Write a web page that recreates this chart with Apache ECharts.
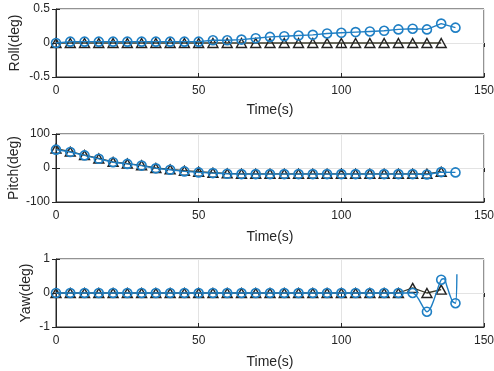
<!DOCTYPE html>
<html><head><meta charset="utf-8">
<script src="https://cdn.jsdelivr.net/npm/echarts@6/dist/echarts.min.js"></script>
<style>html,body{margin:0;padding:0;background:#fff}#c{width:494px;height:371px}</style>
</head><body><div id="c"></div>
<script>
// Time stamps (s)
var tCircle = [0,5,10,15,20,25,30,35,40,45,50,55,60,65,70,75,80,85,90,95,100,105,110,115,120,125,130,135,140];
var tTri = [0,5,10,15,20,25,30,35,40,45,50,55,60,65,70,75,80,85,90,95,100,105,110,115,120,125,130,135];

// Roll (deg)
var rollBlue = [0,0.02,0.02,0.02,0.02,0.02,0.02,0.02,0.02,0.02,0.02,0.04,0.04,0.05,0.07,0.09,0.10,0.11,0.12,0.14,0.15,0.16,0.17,0.18,0.20,0.21,0.20,0.285,0.226];
var rollBlack = [0,0,0,0,0,0,0,0,0,0,0,0,0,0,0,0,0,0,0,0,0,0,0,0,0,0,0,0];

// Pitch (deg)
var pitchBlue = [54,47,37,27,17,12,7,-1,-5,-10,-13,-15,-17,-18,-18,-18,-18,-18,-18,-18,-18,-18,-18,-18,-18,-18,-19,-12,-13];
var pitchBlack = [57,48,38,28,18,13,8,0,-4,-8,-11,-14,-16,-17,-17,-17,-17,-17,-17,-17,-17,-17,-17,-17,-17,-17,-17,-11];

// Yaw (deg)
var yawBlue = [0,0,0,0,0,0,0,0,0,0,0,0,0,0,0,0,0,0,0,0,0,0,0,0,0,0,-0.55,0.39,-0.3];
var yawBlueTailT = [136,137,138,139];
var yawBlueTail = [0.42,0.2,-0.05,-0.25];
var yawBlueEndT = [140.5];
var yawBlueEnd = [0.55];
var yawBlack = [0,0,0,0,0,0,0,0,0,0,0,0,0,0,0,0,0,0,0,0,0,0,0,0,0,0.15,0,0.1];

var yNames = ['Roll(deg)','Pitch(deg)','Yaw(deg)'];
var yRanges = [[-0.5,0.5,0.5],[-100,100,100],[-1,1,1]];

var BLUE = '#1f7fc4', BLACK = '#262626', TXT = '#262626', FONT = 'Liberation Sans';
var tops = [9,134,259];
var yNameGaps = [34,35,23];
var xNameGaps = [26,28,28];

function pairs(xs, ys){ return xs.map(function(x,i){return [x, ys[i]];}); }

var grids = [], xAxes = [], yAxes = [], series = [];
for (var g=0; g<3; g++){
  grids.push({left:56, width:428, top:tops[g], height:68, show:true, borderColor:BLACK, borderWidth:1, backgroundColor:'#fff',
    containLabel:false, outerBoundsMode:'none'});
  xAxes.push({gridIndex:g, type:'value', min:0, max:150, interval:50, name:'Time(s)', nameLocation:'middle', nameGap:xNameGaps[g],
    nameMoveOverlap:false,
    nameTextStyle:{color:TXT, fontSize:14, fontFamily:FONT},
    axisLine:{show:true, onZero:false, lineStyle:{color:BLACK}}, axisTick:{inside:true, length:4, lineStyle:{color:BLACK}},
    axisLabel:{color:TXT, fontSize:12, fontFamily:FONT, margin:8},
    splitLine:{show:true, lineStyle:{color:'#e3e3e3'}}});
  yAxes.push({gridIndex:g, type:'value', min:yRanges[g][0], max:yRanges[g][1], interval:yRanges[g][2], name:yNames[g], nameLocation:'middle', nameGap:yNameGaps[g],
    nameMoveOverlap:false,
    nameTextStyle:{color:TXT, fontSize:14, fontFamily:FONT},
    axisLine:{show:true, lineStyle:{color:BLACK}}, axisTick:{inside:true, length:4, lineStyle:{color:BLACK}},
    axisLabel:{color:TXT, fontSize:12, fontFamily:FONT, margin:6},
    splitLine:{show:true, lineStyle:{color:'#e3e3e3'}}});
}
// mirrored ticks on top and right (box style)
for (var g2=0; g2<3; g2++){
  xAxes.push({gridIndex:g2, type:'value', position:'top', min:0, max:150, interval:50,
    axisLine:{show:false}, axisTick:{inside:true, length:4, lineStyle:{color:BLACK}}, axisLabel:{show:false}, splitLine:{show:false}});
  yAxes.push({gridIndex:g2, type:'value', position:'right', min:yRanges[g2][0], max:yRanges[g2][1], interval:yRanges[g2][2],
    axisLine:{show:false}, axisTick:{inside:true, length:4, lineStyle:{color:BLACK}}, axisLabel:{show:false}, splitLine:{show:false}});
}

function blackSeries(g, ys){
  return {type:'line', xAxisIndex:g, yAxisIndex:g, data:pairs(tTri, ys), symbol:'triangle', symbolSize:[10,9], showAllSymbol:true,
    lineStyle:{color:'#3a3a28', width:1.3}, itemStyle:{color:'rgba(255,255,255,0)', borderColor:'#222', borderWidth:1.4}, z:3, animation:false};
}
function blueSeries(g, data){
  return {type:'line', xAxisIndex:g, yAxisIndex:g, data:data, symbol:'circle', symbolSize:9, showAllSymbol:true,
    lineStyle:{color:BLUE, width:1.4}, itemStyle:{color:'rgba(255,255,255,0)', borderColor:BLUE, borderWidth:1.6}, z:4, animation:false};
}

series.push(blackSeries(0, rollBlack));
series.push(blueSeries(0, pairs(tCircle, rollBlue)));
series.push(blackSeries(1, pitchBlack));
series.push(blueSeries(1, pairs(tCircle, pitchBlue)));
series.push(blackSeries(2, yawBlack));
var yawData = pairs(tCircle.slice(0,28), yawBlue.slice(0,28));
yawBlueTailT.forEach(function(t,i){ yawData.push({value:[t, yawBlueTail[i]], symbol:'none'}); });
yawData.push([tCircle[28], yawBlue[28]]);
yawBlueEndT.forEach(function(t,i){ yawData.push({value:[t, yawBlueEnd[i]], symbol:'none'}); });
var ys = blueSeries(2, yawData); ys.smooth = 0.3;
series.push(ys);

var chart = echarts.init(document.getElementById('c'), null, {renderer:'canvas'});
chart.setOption({animation:false, grid:grids, xAxis:xAxes, yAxis:yAxes, series:series});
</script></body></html>
